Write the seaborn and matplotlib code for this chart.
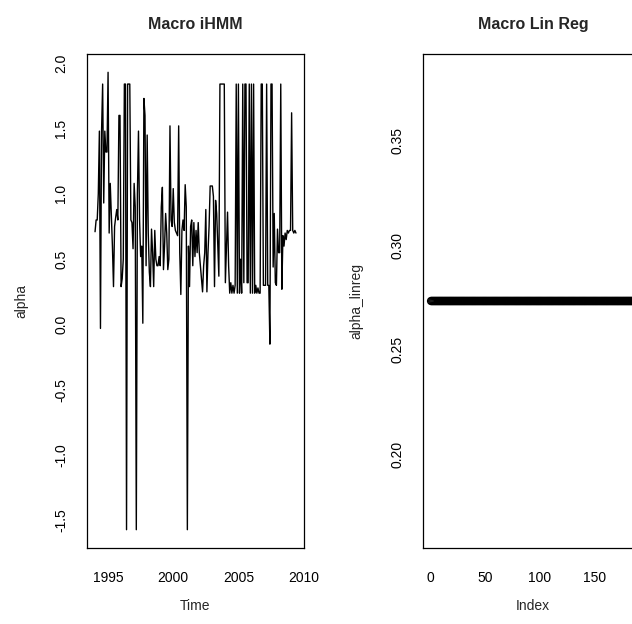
import numpy as np
import pandas as pd
import matplotlib
matplotlib.use("Agg")
import matplotlib.pyplot as plt
import seaborn as sns

# ---- data ----
start_year = 1994.0
frequency = 12
alpha = [
    0.71, 0.80, 0.80, 1.00, 1.48, -0.03, 1.48, 1.84, 0.93, 1.48, 1.32, 1.32, 1.93,
    0.70, 1.08, 0.85, 0.60, 0.29, 0.75, 0.82, 0.88, 0.80, 1.60, 1.60, 0.29, 0.35, 0.50, 1.84, 1.84,
    -1.57, 1.84, 1.84, 1.84, 0.80, 0.78, 0.58, 1.08, 0.90, -1.57, 1.00, 1.48, 0.80, 0.52, 0.60, 0.01,
    1.73, 1.60, 0.45, 1.45, 0.70, 0.40, 0.29, 0.73, 0.55, 0.29, 0.72, 0.50, 0.45, 0.45, 0.52,
    0.45, 0.90, 1.05, 0.42, 0.60, 0.85, 0.70, 0.42, 0.50, 1.52, 0.80, 0.75, 1.04, 0.78, 0.72, 0.70,
    0.68, 1.52, 0.55, 0.23, 0.72, 0.80, 0.72, 1.07, 0.90, -1.57, 0.60, 0.29, 0.75, 0.80, 0.45, 0.78, 0.52,
    0.72, 0.55, 0.78, 0.55, 0.45, 0.35, 0.25, 0.45, 0.55, 0.88, 0.25, 0.55, 0.75, 1.06, 1.06, 1.06,
    0.98, 0.29, 0.95, 0.85, 0.60, 0.37, 1.84, 1.84, 1.84, 1.84, 1.84, 0.32, 0.60, 0.86, 0.45, 0.24, 0.32,
    0.24, 0.30, 0.24, 0.30, 1.84, 0.24, 1.84, 0.24, 0.50, 0.24, 1.84, 0.32, 1.84, 1.84, 0.32, 0.32,
    1.84, 0.24, 1.84, 0.24, 1.84, 0.24, 0.30, 0.24, 0.28, 0.24, 0.24, 1.84, 1.84, 0.30, 0.30, 0.30,
    1.84, 0.30, 0.30, -0.15, 1.84, 1.84,
    0.44, 0.85, 0.32, 0.30, 0.73, 0.55, 0.55, 1.84, 0.27, 0.68, 0.60, 0.70, 0.65, 0.72, 0.70, 0.72,
    0.72, 1.62, 0.72, 0.70, 0.72, 0.70,
]
alpha_linreg = [0.2733] * len(alpha)

left_title = "Macro iHMM"
right_title = "Macro Lin Reg"
left_xticks = [1995, 2000, 2005, 2010]
left_yticks = [-1.5, -1.0, -0.5, 0.0, 0.5, 1.0, 1.5, 2.0]
right_xticks = [0, 50, 100, 150]
right_yticks = [0.20, 0.25, 0.30, 0.35]

time = start_year + np.arange(len(alpha)) / frequency
index = np.arange(1, len(alpha_linreg) + 1)
df_left = pd.DataFrame({"Time": time, "alpha": alpha})
df_right = pd.DataFrame({"Index": index, "alpha_linreg": alpha_linreg})


def r_lim(values):
    lo, hi = float(np.min(values)), float(np.max(values))
    if hi == lo:
        lo, hi = lo - 0.4 * abs(lo), hi + 0.4 * abs(hi)
    r = hi - lo
    return lo - 0.04 * r, hi + 0.04 * r


sns.set_style("white")
plt.rcParams["font.family"] = ["Liberation Sans", "DejaVu Sans"]

W, H = 632, 624
fig = plt.figure(figsize=(W / 100, H / 100), dpi=100)

top_px, bot_px = 54, 548
ax1 = fig.add_axes([87 / W, (H - bot_px) / H, 217 / W, (bot_px - top_px) / H])
ax2 = fig.add_axes([423 / W, (H - bot_px) / H, 219.8 / W, (bot_px - top_px) / H])

sns.lineplot(data=df_left, x="Time", y="alpha", ax=ax1, color="black", linewidth=1.0)
sns.scatterplot(data=df_right, x="Index", y="alpha_linreg", ax=ax2, marker="o",
                facecolor="none", edgecolor="black", linewidth=1.0, s=26)

ax1.set_xlim(*r_lim(time))
ax1.set_ylim(*r_lim(alpha))
ax2.set_xlim(*r_lim(index))
ax2.set_ylim(*r_lim(alpha_linreg))

ax1.set_xticks(left_xticks)
ax1.set_yticks(left_yticks)
ax1.set_yticklabels([f"{v:.1f}" for v in left_yticks])
ax2.set_xticks(right_xticks)
ax2.set_yticks(right_yticks)
ax2.set_yticklabels([f"{v:.2f}" for v in right_yticks])

fs = 10
for ax, title, xl, yl in [(ax1, left_title, "Time", "alpha"),
                          (ax2, right_title, "Index", "alpha_linreg")]:
    for s in ax.spines.values():
        s.set_visible(True)
        s.set_color("black")
        s.set_linewidth(0.9)
    ax.tick_params(axis="both", direction="out", length=6.5, width=0.8,
                   color="black", labelsize=fs, labelcolor="black")
    ax.tick_params(axis="x", pad=10)
    ax.tick_params(axis="y", pad=7)
    for lab in ax.get_yticklabels():
        lab.set_rotation(90)
        lab.set_va("center")
    ax.set_xlabel(xl, fontsize=fs)
    ax.set_ylabel(yl, fontsize=fs)
    ax.xaxis.set_label_coords(0.5, -0.103)
    ax.set_title(title, fontsize=11.5, fontweight="bold", pad=18)
    ax.grid(False)

ax1.yaxis.set_label_coords(-0.272, 0.5)
ax2.yaxis.set_label_coords(-0.273, 0.5)

fig.savefig("out.png", dpi=100)
